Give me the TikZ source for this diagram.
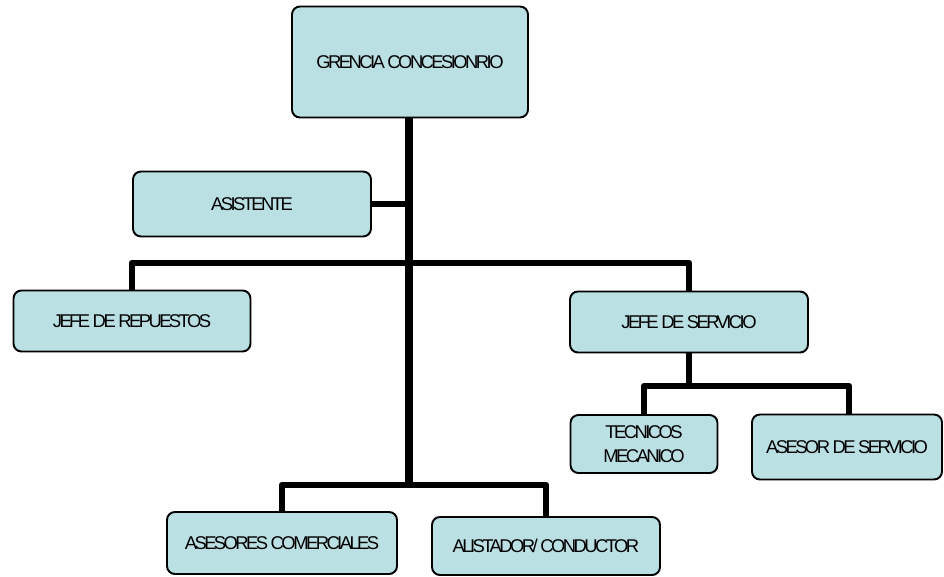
\documentclass[tikz,border=0pt]{standalone}
\usepackage{fontspec}
\setmainfont{Liberation Sans}[LetterSpace=-14]
\definecolor{cajacolor}{RGB}{187,224,227}
\tikzset{
  cargo/.style={draw, line width=1.1pt, rounded corners=4.5pt, fill=cajacolor,
    align=center, inner sep=2pt, font=\fontsize{10.5}{14}\selectfont},
  tronco/.style={line width=4.5pt},
  rama/.style={line width=3.6pt, line join=round}
}
\begin{document}
\begin{tikzpicture}[x=0.02cm, y=-0.02cm]
    \useasboundingbox (0,0) rectangle (944,576);

    % cargos
    \node[cargo, minimum width=4.72cm, minimum height=2.22cm] (gerencia) at (410,62) {GRENCIA CONCESIONRIO};
    \node[cargo, minimum width=4.76cm, minimum height=1.3cm] (asistente) at (252,204) {ASISTENTE};
    \node[cargo, minimum width=4.74cm, minimum height=1.22cm] (repuestos) at (132,321) {JEFE DE REPUESTOS};
    \node[cargo, minimum width=4.76cm, minimum height=1.22cm] (servicio) at (689,322) {JEFE DE SERVICIO};
    \node[cargo, minimum width=2.94cm, minimum height=1.16cm] (tecnicos) at (644,444) {TECNICOS\\MECANICO};
    \node[cargo, minimum width=3.8cm, minimum height=1.3cm] (asesor) at (847,447) {ASESOR DE SERVICIO};
    \node[cargo, minimum width=4.6cm, minimum height=1.24cm] (comerciales) at (282,543) {ASESORES COMERCIALES};
    \node[cargo, minimum width=4.56cm, minimum height=1.16cm] (alistador) at (546,546) {ALISTADOR/ CONDUCTOR};

    % uniones
    \coordinate (t1) at (409,204);
    \coordinate (t2) at (409,263);
    \coordinate (t3) at (409,485);
    \coordinate (s1) at (689,386);

    \draw[tronco] (t1 |- gerencia.south) -- (t3);
    \draw[rama] (asistente.east) -- (t1);
    \draw[rama] (repuestos.north) |- (t2) -| (servicio.north);
    \draw[rama] (servicio.south) -- (s1);
    \draw[rama] (tecnicos.north) |- (s1) -| ([xshift=0.04cm]asesor.north);
    \draw[rama] (comerciales.north) |- (t3) -| (alistador.north);
  \end{tikzpicture}
\end{document}
